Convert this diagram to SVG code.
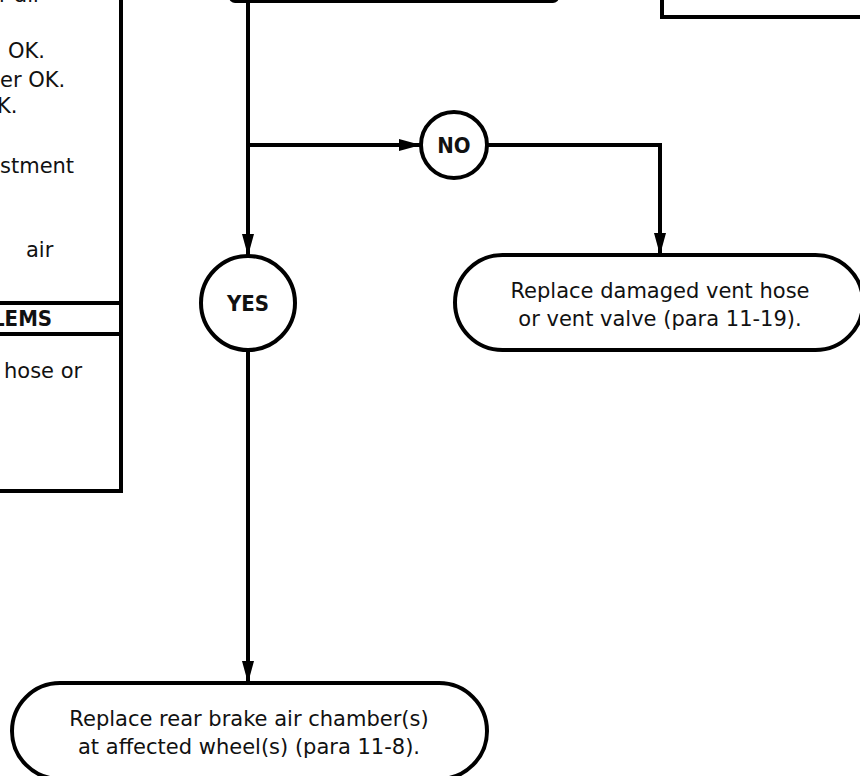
<svg xmlns="http://www.w3.org/2000/svg" width="860" height="776" viewBox="0 0 860 776">
  <defs>
    <marker id="arrow" markerUnits="userSpaceOnUse" markerWidth="24" markerHeight="14" refX="22" refY="6" orient="auto">
      <path d="M0,0 L22,6 L0,12 Z" fill="#000"/>
    </marker>
    <style>
      .box { fill: #fff; stroke: #000; stroke-width: 4; }
      .wire { fill: none; stroke: #000; stroke-width: 4; }
      .txt { font-family: "DejaVu Sans", Verdana, sans-serif; font-size: 21px; fill: #111; }
      .ctr { text-anchor: middle; }
      .bold { font-family: "DejaVu Sans Condensed", "DejaVu Sans", sans-serif; font-stretch: condensed; font-size: 22px; font-weight: bold; fill: #111; }
    </style>
  </defs>
  <rect width="860" height="776" fill="#fff"/>

  <!-- left information panel (extends past the left edge) -->
  <g id="info-panel">
    <rect class="box" x="-200" y="-40" width="321" height="531"/>
    <line x1="-200" y1="303" x2="121" y2="303" stroke="#000" stroke-width="4"/>
    <line x1="-200" y1="334" x2="121" y2="334" stroke="#000" stroke-width="4"/>
    <text class="txt" x="-1" y="2">r air</text>
    <text class="txt" x="8" y="58">OK.</text>
    <text class="txt" x="0" y="87">er OK.</text>
    <text class="txt" x="-3" y="113">K.</text>
    <text class="txt" x="0" y="173">stment</text>
    <text class="txt" x="26" y="257">air</text>
    <text class="bold" x="-8" y="326">LEMS</text>
    <text class="txt" x="4" y="378">hose or</text>
  </g>

  <!-- box above, only its lower edge shows -->
  <g id="top-step">
    <rect class="box" x="231" y="-100" width="326" height="101" rx="4"/>
  </g>

  <!-- box at upper right, only its lower-left corner shows -->
  <g id="top-right-step">
    <rect class="box" x="662" y="-100" width="260" height="117"/>
  </g>

  <!-- connectors -->
  <g id="connectors">
    <line class="wire" x1="248" y1="2" x2="248" y2="256" marker-end="url(#arrow)"/>
    <line class="wire" x1="248" y1="145" x2="421" y2="145" marker-end="url(#arrow)"/>
    <polyline class="wire" points="487,145 660,145 660,255" marker-end="url(#arrow)"/>
    <line class="wire" x1="248" y1="350" x2="248" y2="683" marker-end="url(#arrow)"/>
  </g>

  <g id="no-decision">
    <circle class="box" cx="454" cy="145" r="33"/>
    <text class="bold ctr" x="454" y="153">NO</text>
  </g>

  <g id="yes-decision">
    <circle class="box" cx="248" cy="303" r="47"/>
    <text class="bold ctr" x="248" y="311">YES</text>
  </g>

  <g id="replace-vent">
    <rect class="box" x="455" y="255" width="408" height="95" rx="47.5"/>
    <text class="txt ctr" x="660" y="298">Replace damaged vent hose</text>
    <text class="txt ctr" x="660" y="326">or vent valve (para 11-19).</text>
  </g>

  <g id="replace-chamber">
    <rect class="box" x="12" y="683" width="475" height="96" rx="48"/>
    <text class="txt ctr" x="249" y="726">Replace rear brake air chamber(s)</text>
    <text class="txt ctr" x="249" y="754">at affected wheel(s) (para 11-8).</text>
  </g>
</svg>
